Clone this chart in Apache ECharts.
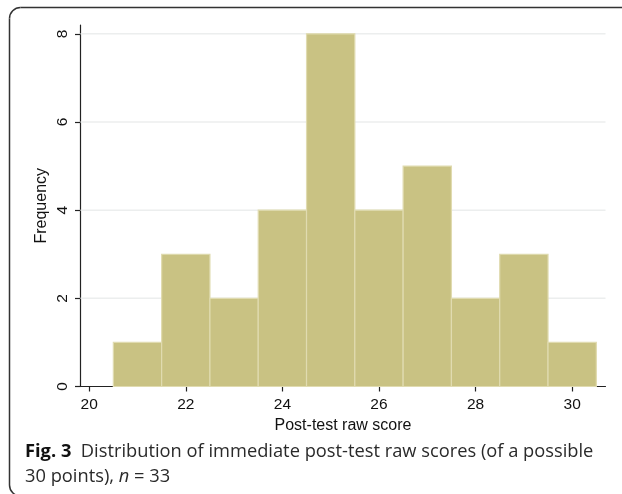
<!DOCTYPE html>
<html>
<head>
<meta charset="utf-8">
<script src="https://cdn.jsdelivr.net/npm/echarts@6/dist/echarts.min.js"></script>
<style>html,body{margin:0;padding:0;background:#fff;}#c{width:622px;height:494px;}</style>
</head>
<body>
<div id="c"></div>
<script>
var scores = [21, 22, 23, 24, 25, 26, 27, 28, 29, 30];
var frequency = [1, 3, 2, 4, 8, 4, 5, 2, 3, 1];
var xTicks = [20, 22, 24, 26, 28, 30];
var yTicks = [0, 2, 4, 6, 8];
var binWidth = 1;

var chart = echarts.init(document.getElementById('c'), null, {renderer: 'canvas'});
var data = scores.map(function (s, i) { return [s, frequency[i]]; });
var axisFont = 'Liberation Sans, Arial, sans-serif';
var frameStyle = {fill: 'none', stroke: '#333', lineWidth: 1.5};
var capFont = 'Open Sans, sans-serif';
chart.setOption({
  animation: false,
  backgroundColor: '#fff',
  grid: {left: 80.5, right: 16.5, top: 25, bottom: 107.5},
  xAxis: {
    type: 'value', min: 19.82, max: 30.69,
    name: 'Post-test raw score', nameLocation: 'middle', nameGap: 27,
    nameTextStyle: {fontFamily: axisFont, fontSize: 16, color: '#111'},
    axisLine: {show: true, lineStyle: {color: '#222', width: 1.2}},
    axisTick: {show: true, length: 5, customValues: xTicks, lineStyle: {color: '#222', width: 1.2}},
    axisLabel: {customValues: xTicks, margin: 10, fontFamily: axisFont, fontSize: 15.5, color: '#111'},
    splitLine: {show: false}
  },
  yAxis: {
    type: 'value', min: 0, max: 8.2,
    name: 'Frequency', nameLocation: 'middle', nameGap: 31, nameMoveOverlap: false,
    nameTextStyle: {fontFamily: axisFont, fontSize: 16, color: '#111'},
    axisLine: {show: true, lineStyle: {color: '#222', width: 1.2}},
    axisTick: {show: true, length: 5.5, customValues: yTicks, lineStyle: {color: '#222', width: 1.2}},
    axisLabel: {customValues: yTicks, rotate: 90, margin: 10, fontFamily: axisFont, fontSize: 15.5, color: '#111'},
    splitLine: {show: false}
  },
  series: [{
    type: 'custom',
    data: data,
    renderItem: function (params, api) {
      var x = api.value(0), y = api.value(1);
      var p0 = api.coord([x - binWidth / 2, y]);
      var p1 = api.coord([x + binWidth / 2, 0]);
      return {
        type: 'rect',
        shape: {x: p0[0], y: p0[1], width: p1[0] - p0[0], height: p1[1] - p0[1]},
        style: {fill: '#c9c283', stroke: '#e0dbb0', lineWidth: 1.2}
      };
    },
    z: 3
  }, {
    type: 'custom',
    data: yTicks.filter(function (t) { return t > 0; }),
    renderItem: function (params, api) {
      var v = api.value(0);
      var a = api.coord([19.82, v]);
      var b = api.coord([30.69, v]);
      return {type: 'line', shape: {x1: a[0], y1: a[1], x2: b[0], y2: b[1]},
        style: {stroke: '#eceeee', lineWidth: 1.5}};
    },
    z: 1
  }],
  graphic: [
    {type: 'line', silent: true, shape: {x1: 20.5, y1: 7.5, x2: 640, y2: 7.5}, style: frameStyle},
    {type: 'line', silent: true, shape: {x1: 9.5, y1: 18.5, x2: 9.5, y2: 485}, style: frameStyle},
    {type: 'arc', silent: true, shape: {cx: 20.5, cy: 18.5, r: 11, startAngle: Math.PI, endAngle: Math.PI * 1.5}, style: frameStyle},
    {type: 'arc', silent: true, shape: {cx: 20.5, cy: 485, r: 11, startAngle: Math.PI * 0.5, endAngle: Math.PI}, style: frameStyle},
    {type: 'text', x: 25, y: 443,
      style: {
        text: '{b|Fig. 3}  Distribution of immediate post-test raw scores (of a possible',
        fontFamily: capFont, fontSize: 18.3, fill: '#2a2a2a',
        rich: {b: {fontFamily: capFont, fontWeight: 'bold', fontSize: 18.3, fill: '#111'}}
      }},
    {type: 'text', x: 25, y: 468,
      style: {
        text: '30 points), {i|n} = 33',
        fontFamily: capFont, fontSize: 18.3, fill: '#2a2a2a',
        rich: {i: {fontFamily: capFont, fontStyle: 'italic', fontSize: 18.3, fill: '#2a2a2a'}}
      }}
  ]
});
</script>
</body>
</html>
